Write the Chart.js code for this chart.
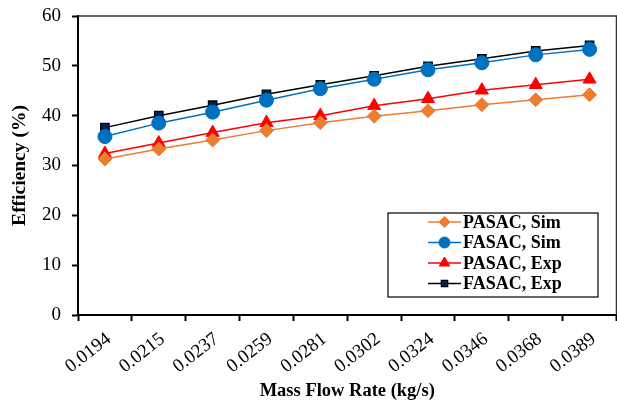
<!DOCTYPE html>
<html>
<head>
<meta charset="utf-8">
<script src="https://cdn.jsdelivr.net/npm/chart.js@4.4.0/dist/chart.umd.min.js"></script>
<style>
  html, body { margin: 0; padding: 0; background: #fff; overflow: hidden; }
  #wrap { width: 625px; height: 405px; }
</style>
</head>
<body>
<div id="wrap"><canvas id="chart" width="625" height="405"></canvas></div>
<script>
// mass flow rate categories (kg/s)
const flowRates = ['0.0194', '0.0215', '0.0237', '0.0259', '0.0281', '0.0302', '0.0324', '0.0346', '0.0368', '0.0389'];

// efficiency (%)
const pasacSim = [31.3, 33.3, 35.1, 37.0, 38.6, 39.9, 41.0, 42.2, 43.2, 44.2];
const fasacSim = [35.8, 38.5, 40.7, 43.1, 45.4, 47.3, 49.2, 50.6, 52.2, 53.3];
const pasacExp = [32.4, 34.5, 36.6, 38.6, 40.0, 42.0, 43.4, 45.1, 46.2, 47.3];
const fasacExp = [37.6, 40.0, 42.1, 44.3, 46.2, 48.0, 49.9, 51.4, 53.0, 54.1];

const yTicks = [0, 10, 20, 30, 40, 50, 60];

const serif = '"Liberation Serif", "Times New Roman", serif';

// plot frame on top/right + legend box drawn inside the plot area
const framePlugin = {
    id: 'frame',
    afterDraw(chart) {
        const { ctx, chartArea } = chart;
        ctx.save();
        ctx.strokeStyle = '#333';
        ctx.lineWidth = 1.5;
        ctx.beginPath();
        ctx.moveTo(chartArea.left, chartArea.top);
        ctx.lineTo(chartArea.right, chartArea.top);
        ctx.lineTo(chartArea.right, chartArea.bottom);
        ctx.stroke();

        // legend
        const bx = 388, by = 213, bw = 210, bh = 84;
        ctx.fillStyle = '#fff';
        ctx.fillRect(bx, by, bw, bh);
        ctx.strokeStyle = '#000';
        ctx.lineWidth = 1.2;
        ctx.strokeRect(bx, by, bw, bh);
        ctx.font = 'bold 18px ' + serif;
        ctx.textBaseline = 'middle';
        chart.data.datasets.forEach((ds, i) => {
            const y = 222 + i * 20.5;
            ctx.strokeStyle = ds.borderColor;
            ctx.lineWidth = 1.5;
            ctx.beginPath();
            ctx.moveTo(428, y);
            ctx.lineTo(461, y);
            ctx.stroke();
            ctx.fillStyle = ds.pointBackgroundColor;
            ctx.strokeStyle = ds.pointBorderColor;
            ctx.lineWidth = ds.pointBorderWidth || 1;
            Chart.helpers.drawPoint(ctx, {
                pointStyle: ds.pointStyle,
                radius: ds.pointRadius - 1.5,
                rotation: 0,
                borderWidth: ds.pointBorderWidth || 1
            }, 444.5, y);
            ctx.fillStyle = '#000';
            ctx.fillText(ds.label, 463, y + 1);
        });
        ctx.restore();
    }
};

const ctx = document.getElementById('chart');

new Chart(ctx, {
    type: 'line',
    data: {
        labels: flowRates,
        datasets: [
            {
                label: 'PASAC, Sim',
                data: pasacSim,
                borderColor: '#ED7D31',
                backgroundColor: '#ED7D31',
                pointBackgroundColor: '#ED7D31',
                pointBorderColor: '#ED7D31',
                pointStyle: 'rectRot',
                pointRadius: 7,
                pointBorderWidth: 1,
                borderWidth: 1.5
            },
            {
                label: 'FASAC, Sim',
                data: fasacSim,
                borderColor: '#0070C0',
                backgroundColor: '#0070C0',
                pointBackgroundColor: '#0070C0',
                pointBorderColor: '#0070C0',
                pointStyle: 'circle',
                pointRadius: 7,
                pointBorderWidth: 1,
                borderWidth: 1.5
            },
            {
                label: 'PASAC, Exp',
                data: pasacExp,
                borderColor: '#FF0000',
                backgroundColor: '#FF0000',
                pointBackgroundColor: '#FF0000',
                pointBorderColor: '#FF0000',
                pointStyle: 'triangle',
                pointRadius: 7.5,
                pointBorderWidth: 1,
                borderWidth: 1.5
            },
            {
                label: 'FASAC, Exp',
                data: fasacExp,
                borderColor: '#000000',
                backgroundColor: '#002060',
                pointBackgroundColor: '#002060',
                pointBorderColor: '#000000',
                pointStyle: 'rect',
                pointRadius: 6,
                pointBorderWidth: 1.2,
                borderWidth: 1.5
            }
        ]
    },
    options: {
        responsive: false,
        animation: false,
        layout: { padding: { top: 16, right: 4, left: 8, bottom: 0 } },
        plugins: {
            legend: { display: false },
            tooltip: { enabled: false }
        },
        elements: { line: { tension: 0 } },
        scales: {
            x: {
                offset: true,
                grid: {
                    offset: true,
                    drawOnChartArea: false,
                    drawTicks: true,
                    tickLength: 6,
                    tickWidth: 2,
                    tickColor: '#000'
                },
                border: { color: '#000', width: 2 },
                ticks: {
                    color: '#000',
                    font: { family: serif, size: 19 },
                    minRotation: 38,
                    maxRotation: 38,
                    autoSkip: false,
                    padding: 7,
                    labelOffset: 4
                },
                title: {
                    display: true,
                    text: 'Mass Flow Rate (kg/s)',
                    color: '#000',
                    font: { family: serif, size: 18.5, weight: 'bold' },
                    padding: { top: 0, bottom: 3 }
                },
                afterFit(scale) {
                    scale.height = 90;
                    scale.paddingLeft = 0;
                    scale.paddingRight = 0;
                }
            },
            y: {
                min: 0,
                max: 60,
                afterBuildTicks(scale) {
                    scale.ticks = yTicks.map(v => ({ value: v }));
                },
                grid: {
                    drawOnChartArea: false,
                    drawTicks: true,
                    tickLength: 6,
                    tickWidth: 2,
                    tickColor: '#000'
                },
                border: { color: '#000', width: 2 },
                ticks: {
                    color: '#000',
                    font: { family: serif, size: 19 },
                    padding: 11
                },
                title: {
                    display: true,
                    text: 'Efficiency (%)',
                    color: '#000',
                    font: { family: serif, size: 19.5, weight: 'bold' },
                    padding: { top: 0, bottom: 4 }
                },
                afterFit(scale) {
                    scale.width = 70;
                    scale.paddingTop = 0;
                    scale.paddingBottom = 0;
                }
            }
        }
    },
    plugins: [framePlugin]
});
</script>
</body>
</html>
